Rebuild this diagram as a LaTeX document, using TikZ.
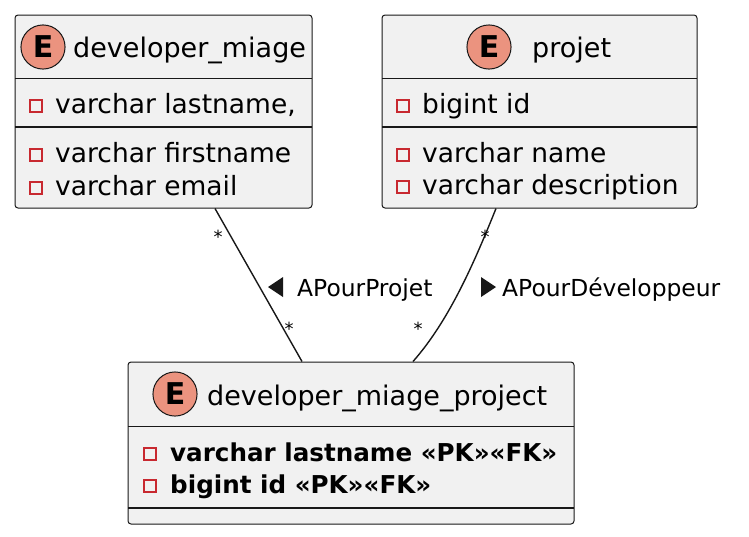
\documentclass[tikz,border=0pt]{standalone}
\usepackage{fontspec}
\setmainfont{DejaVu Sans}
\usepackage{tikz}
\usetikzlibrary{arrows,positioning}

\definecolor{boxfill}{HTML}{F1F1F1}
\definecolor{boxline}{HTML}{181818}
\definecolor{entitycol}{HTML}{EB937F}
\definecolor{keyred}{HTML}{C82930}

\tikzset{
  entity/.style={draw=boxline, fill=boxfill, line width=1pt, rounded corners=3pt, inner sep=0pt},
  ecircle/.style={circle, draw=boxline, fill=entitycol, line width=1pt, inner sep=5pt,
    font=\bfseries\fontsize{30}{30}\selectfont},
  title/.style={anchor=base west, inner sep=0pt, font=\fontsize{27}{30}\selectfont},
  field/.style={anchor=base west, inner sep=0pt, font=\fontsize{26.5}{30}\selectfont},
  keyfield/.style={anchor=base west, inner sep=0pt, font=\bfseries\fontsize{24.6}{30}\selectfont},
  keyicon/.style={draw=keyred, line width=1.3pt, minimum width=12pt, minimum height=12pt, inner sep=0pt},
  sep/.style={draw=boxline, line width=1pt},
  sepbold/.style={draw=boxline, line width=1.6pt},
  rel/.style={draw=boxline, line width=1.4pt},
  card/.style={inner sep=0pt, font=\fontsize{18}{20}\selectfont},
  rellabel/.style={anchor=base west, inner sep=0pt, font=\fontsize{23.4}{26}\selectfont}
}

\begin{document}
\begin{tikzpicture}[x=1pt, y=-1pt]
			\useasboundingbox (0,0) rectangle (749,536);

			% entities
			\node [entity, minimum width=297pt, minimum height=193pt] (dev) at (163.5, 111.5) {};
			\node [entity, minimum width=315pt, minimum height=193pt] (proj) at (539.5, 111.5) {};
			\node [entity, minimum width=446pt, minimum height=162pt] (link) at (351, 443) {};

			% developer_miage
			\node [ecircle] (devE) at (43, 47) {E};
			\node [title] (devT) at (73, 57) {developer\_miage};
			\draw [sep] (15, 78) -- (312, 78);
			\node [keyicon] (devK1) at (36, 106) {};
			\node [field] (devF1) at (55, 113) {varchar lastname,};
			\draw [sepbold] (15, 127) -- (312, 127);
			\node [keyicon] (devK2) at (36, 155) {};
			\node [field] (devF2) at (55, 162) {varchar firstname};
			\node [keyicon] (devK3) at (36, 188) {};
			\node [field] (devF3) at (55, 195) {varchar email};

			% projet
			\node [ecircle] (projE) at (489, 47) {E};
			\node [title] (projT) at (532, 57) {projet};
			\draw [sep] (382, 78) -- (697, 78);
			\node [keyicon] (projK1) at (403, 106) {};
			\node [field] (projF1) at (422, 113) {bigint id};
			\draw [sepbold] (382, 127) -- (697, 127);
			\node [keyicon] (projK2) at (403, 155) {};
			\node [field] (projF2) at (422, 162) {varchar name};
			\node [keyicon] (projK3) at (403, 187) {};
			\node [field] (projF3) at (422, 194) {varchar description};

			% developer_miage_project
			\node [ecircle] (linkE) at (175, 394) {E};
			\node [title] (linkT) at (207, 405) {developer\_miage\_project};
			\draw [sep] (128, 426) -- (574, 426);
			\node [keyicon] (linkK1) at (150, 454) {};
			\node [keyfield] (linkF1) at (170, 461) {varchar lastname «PK»«FK»};
			\node [keyicon] (linkK2) at (150, 486) {};
			\node [keyfield] (linkF2) at (170, 493) {bigint id «PK»«FK»};
			\draw [sepbold] (128, 508) -- (574, 508);

			% relations
			\draw [rel] ([xshift=51.5pt]dev.south) to ([xshift=-49pt]link.north);
			\draw [rel] ([xshift=-43.5pt]proj.south) .. controls +(-21, 52) and +(37, -42) .. ([xshift=62pt]link.north);

			\node [card] (c1) at (218, 237) {*};
			\node [card] (c2) at (289, 329) {*};
			\node [card] (c3) at (485, 237) {*};
			\node [card] (c4) at (418, 329) {*};

			\fill [boxline] (283, 277) -- (283, 297) -- (268, 287) -- cycle;
			\node [rellabel] (r1) at (297, 296) {APourProjet};
			\fill [boxline] (481, 277) -- (481, 297) -- (496, 287) -- cycle;
			\node [rellabel] (r2) at (502, 296) {APourDéveloppeur};
		\end{tikzpicture}
\end{document}
